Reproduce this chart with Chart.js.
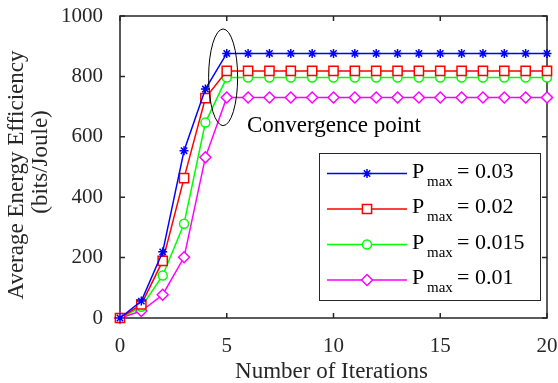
<!DOCTYPE html>
<html>
<head>
<meta charset="utf-8">
<script src="https://cdn.jsdelivr.net/npm/chart.js@4.4.1/dist/chart.umd.min.js"></script>
<style>
  html, body { margin: 0; padding: 0; background: #fff; }
</style>
</head>
<body>
<canvas id="eeChart" width="558" height="383"></canvas>
<script>
// 데이터
const iterations = [0, 1, 2, 3, 4, 5, 6, 7, 8, 9, 10, 11, 12, 13, 14, 15, 16, 17, 18, 19, 20];
const eePmax003  = [0, 56, 219, 554, 758, 876, 876, 876, 876, 876, 876, 876, 876, 876, 876, 876, 876, 876, 876, 876, 876];
const eePmax002  = [0, 45, 189, 463, 728, 818, 818, 818, 818, 818, 818, 818, 818, 818, 818, 818, 818, 818, 818, 818, 818];
const eePmax0015 = [0, 37, 141, 312, 647, 796, 796, 796, 796, 796, 796, 796, 796, 796, 796, 796, 796, 796, 796, 796, 796];
const eePmax001  = [0, 23, 77, 201, 532, 730, 730, 730, 730, 730, 730, 730, 730, 730, 730, 730, 730, 730, 730, 730, 730];
const pmaxLabels = ['0.03', '0.02', '0.015', '0.01'];
const xTicks = [0, 5, 10, 15, 20];
const yTicks = [0, 200, 400, 600, 800, 1000];

const FONT = "'Liberation Serif', 'Times New Roman', serif";
const AXIS_COLOR = '#262626';

function toPoints(values) {
    return iterations.map((x, i) => ({ x: x, y: values[i] }));
}

function makeSet(label, values, color, style, radius) {
    return {
        label: label,
        data: toPoints(values),
        borderColor: color,
        backgroundColor: color,
        borderWidth: 1.5,
        tension: 0,
        pointStyle: style,
        pointRadius: radius,
        pointHoverRadius: radius,
        pointBorderColor: color,
        pointBackgroundColor: '#ffffff',
        pointBorderWidth: 1.5,
        clip: false
    };
}

const datasets = [
    makeSet('0.03', eePmax003, '#0000ff', 'star', 4.5),
    makeSet('0.02', eePmax002, '#ff0000', 'rect', 6.5),
    makeSet('0.015', eePmax0015, '#00ff00', 'circle', 4.5),
    makeSet('0.01', eePmax001, '#ff00ff', 'rectRot', 5.5)
];

// 축 테두리 + 안쪽 눈금
const frameTicks = {
    id: 'frameTicks',
    beforeDatasetsDraw(chart) {
        const { ctx, chartArea: a, scales } = chart;
        ctx.save();
        ctx.strokeStyle = AXIS_COLOR;
        ctx.lineWidth = 1.5;
        ctx.strokeRect(a.left, a.top, a.right - a.left, a.bottom - a.top);
        ctx.beginPath();
        xTicks.forEach(v => {
            const px = scales.x.getPixelForValue(v);
            ctx.moveTo(px, a.bottom); ctx.lineTo(px, a.bottom - 5);
            ctx.moveTo(px, a.top); ctx.lineTo(px, a.top + 5);
        });
        yTicks.forEach(v => {
            const py = scales.y.getPixelForValue(v);
            ctx.moveTo(a.left, py); ctx.lineTo(a.left + 5, py);
            ctx.moveTo(a.right, py); ctx.lineTo(a.right - 5, py);
        });
        ctx.stroke();
        ctx.restore();
    }
};

// 수렴 지점 표시
const convergenceMark = {
    id: 'convergenceMark',
    afterDatasetsDraw(chart) {
        const { ctx, scales } = chart;
        const cx = scales.x.getPixelForValue(4.83);
        const cy = scales.y.getPixelForValue(797);
        const rx = scales.x.getPixelForValue(4.83 + 0.68) - cx;
        const ry = cy - scales.y.getPixelForValue(797 + 160);
        ctx.save();
        ctx.strokeStyle = '#000000';
        ctx.lineWidth = 1;
        ctx.beginPath();
        ctx.ellipse(cx, cy, rx, ry, 0, 0, Math.PI * 2);
        ctx.stroke();
        ctx.fillStyle = '#000000';
        ctx.font = '23px ' + FONT;
        ctx.textBaseline = 'alphabetic';
        ctx.fillText('Convergence point', scales.x.getPixelForValue(5.95), scales.y.getPixelForValue(617));
        ctx.restore();
    }
};

// 범례 (아래첨자 포함)
const pmaxLegend = {
    id: 'pmaxLegend',
    afterDraw(chart) {
        const { ctx } = chart;
        const box = { x: 319.5, y: 153.5, w: 221, h: 147 };
        ctx.save();
        ctx.fillStyle = '#ffffff';
        ctx.fillRect(box.x, box.y, box.w, box.h);
        ctx.strokeStyle = AXIS_COLOR;
        ctx.lineWidth = 1;
        ctx.strokeRect(box.x, box.y, box.w, box.h);

        chart.data.datasets.forEach((ds, i) => {
            const ly = 173.5 + i * 35.5;
            ctx.strokeStyle = ds.borderColor;
            ctx.lineWidth = 1.5;
            ctx.beginPath();
            ctx.moveTo(327, ly);
            ctx.lineTo(407, ly);
            ctx.stroke();
            ctx.fillStyle = '#ffffff';
            Chart.helpers.drawPoint(ctx, {
                pointStyle: ds.pointStyle,
                radius: ds.pointRadius,
                borderWidth: ds.pointBorderWidth,
                rotation: 0
            }, 367, ly);

            ctx.fillStyle = '#000000';
            ctx.textBaseline = 'alphabetic';
            ctx.font = '22px ' + FONT;
            ctx.fillText('P', 412, ly + 4);
            ctx.font = '15px ' + FONT;
            ctx.fillText('max', 427, ly + 12);
            ctx.font = '22px ' + FONT;
            ctx.fillText('= ' + pmaxLabels[i], 457, ly + 4);
        });
        ctx.restore();
    }
};

// 축 제목
const axisTitles = {
    id: 'axisTitles',
    afterDraw(chart) {
        const { ctx, chartArea: a } = chart;
        ctx.save();
        ctx.fillStyle = AXIS_COLOR;
        ctx.font = '23px ' + FONT;
        ctx.textAlign = 'center';
        ctx.textBaseline = 'alphabetic';
        ctx.fillText('Number of Iterations', (a.left + a.right) / 2 - 2, 378);

        ctx.save();
        ctx.translate(23, 175);
        ctx.rotate(-Math.PI / 2);
        ctx.fillText('Average Energy Efficiency', 0, 0);
        ctx.restore();
        ctx.save();
        ctx.translate(47, 162);
        ctx.rotate(-Math.PI / 2);
        ctx.fillText('(bits/Joule)', 0, 0);
        ctx.restore();
        ctx.restore();
    }
};

new Chart(document.getElementById('eeChart'), {
    type: 'line',
    data: { datasets: datasets },
    options: {
        responsive: false,
        animation: false,
        devicePixelRatio: 1,
        layout: { padding: { top: 16, right: 11, left: 0, bottom: 0 } },
        plugins: {
            legend: { display: false },
            tooltip: { enabled: false }
        },
        scales: {
            x: {
                type: 'linear',
                min: 0,
                max: 20,
                afterBuildTicks: s => { s.ticks = xTicks.map(v => ({ value: v })); },
                afterFit: s => { s.height = 65; s.paddingLeft = 0; s.paddingRight = 0; },
                grid: { display: false },
                border: { display: false },
                ticks: {
                    color: AXIS_COLOR,
                    padding: 8,
                    maxRotation: 0,
                    callback: v => String(v),
                    font: { family: FONT, size: 21 }
                }
            },
            y: {
                min: 0,
                max: 1000,
                afterBuildTicks: s => { s.ticks = yTicks.map(v => ({ value: v })); },
                afterFit: s => { s.width = 120; s.paddingTop = 0; s.paddingBottom = 0; },
                grid: { display: false },
                border: { display: false },
                ticks: {
                    color: AXIS_COLOR,
                    padding: 9,
                    callback: v => String(v),
                    font: { family: FONT, size: 21 }
                }
            }
        }
    },
    plugins: [frameTicks, convergenceMark, pmaxLegend, axisTitles]
});
</script>
</body>
</html>
